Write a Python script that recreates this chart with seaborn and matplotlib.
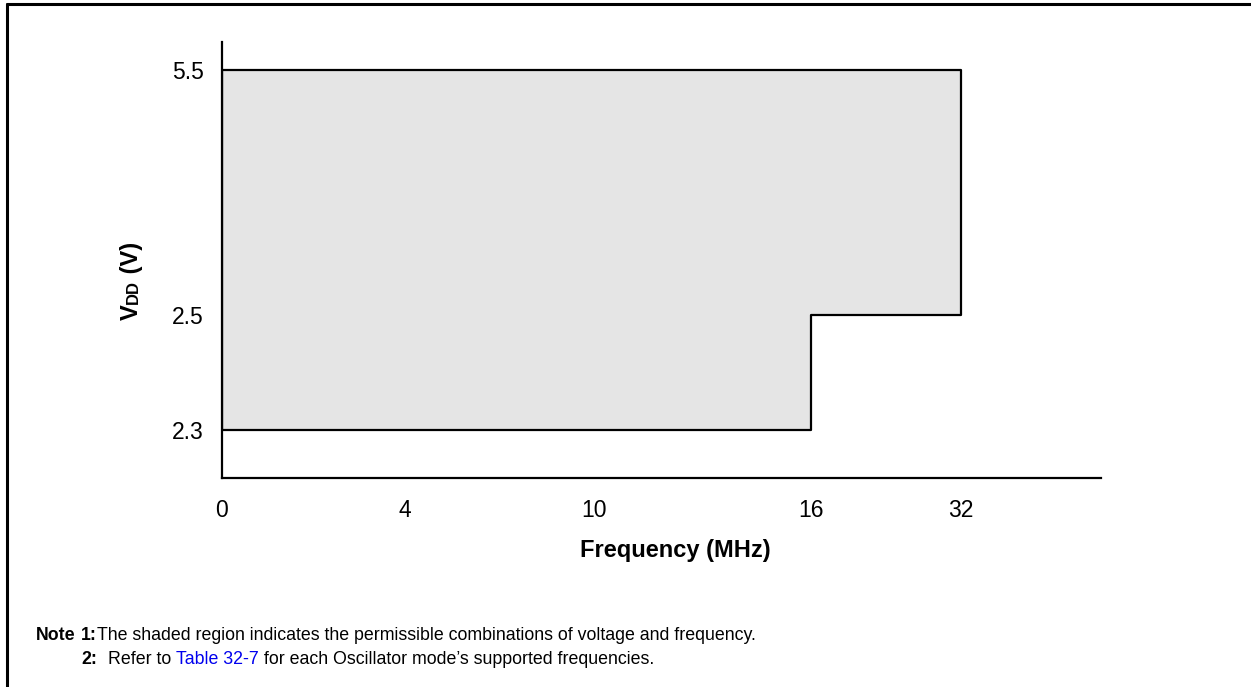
import numpy as np
import matplotlib
matplotlib.use("Agg")
import matplotlib.pyplot as plt
from matplotlib.lines import Line2D
import seaborn as sns
import pandas as pd

# ---- data ----
freq_ticks = [0, 4, 10, 16, 32]                 # MHz (axis is not linear)
freq_tick_labels = ["0", "4", "10", "16", "32"]
volt_ticks = [2.3, 2.5, 5.5]                    # V (axis is not linear)
volt_tick_labels = ["2.3", "2.5", "5.5"]
region_freq = [0, 16, 16, 32, 32, 0, 0]
region_volt = [2.3, 2.3, 2.5, 2.5, 5.5, 5.5, 2.3]
xlabel = "Frequency (MHz)"
ylabel_parts = ["V", "DD", " (V)"]
note1 = "The shaded region indicates the permissible combinations of voltage and frequency."
note2_pre = "Refer to "
note2_link = "Table 32-7"
note2_post = " for each Oscillator mode\u2019s supported frequencies."

# ---- layout: piecewise scale for the non-linear axes ----
x_pos = [0, 183, 372, 589, 739]
x_max = 879
y_pos = [48, 163, 408]
y_max = 436

def fx(v):
    return np.interp(v, freq_ticks, x_pos)

def fy(v):
    return np.interp(v, volt_ticks, y_pos)

sns.set_theme(style="white")
plt.rcParams["font.family"] = ["Liberation Sans", "DejaVu Sans"]
for k in ["text.color", "axes.labelcolor", "xtick.color", "ytick.color"]:
    plt.rcParams[k] = "black"

W, H = 1251, 687
fig = plt.figure(figsize=(W / 100, H / 100), dpi=100)
ax = fig.add_axes([222 / W, 1 - 478 / H, (1101 - 222) / W, (478 - 42) / H])

df = pd.DataFrame({"x": fx(region_freq), "y": fy(region_volt)})
ax.fill(df["x"], df["y"], color="#e5e5e5", zorder=1, linewidth=0)
sns.lineplot(data=df, x="x", y="y", sort=False, estimator=None, color="black",
             linewidth=1.6, ax=ax, zorder=2)

ax.set_xlim(0, x_max)
ax.set_ylim(0, y_max)
ax.set_xticks(fx(freq_ticks))
ax.set_xticklabels(freq_tick_labels)
ax.set_yticks(fy(volt_ticks))
ax.set_yticklabels(volt_tick_labels)
ax.tick_params(axis="both", length=0, labelsize=16.5, colors="black")
ax.tick_params(axis="x", pad=15)
ax.tick_params(axis="y", pad=13)
ax.set_xlabel("")
ax.set_ylabel("")
for s in ["top", "right"]:
    ax.spines[s].set_visible(False)
for s in ["left", "bottom"]:
    ax.spines[s].set_color("black")
    ax.spines[s].set_linewidth(1.6)

fig.text(675 / W, 1 - 550 / H, xlabel, ha="center", va="center",
         fontsize=17, fontweight="bold")

renderer = fig.canvas.get_renderer()

# y label: "V" + small "DD" + " (V)", rotated, sharing one baseline
ybase = 320
sizes = [17, 12, 17]
for part, sz in zip(ylabel_parts, sizes):
    t = fig.text(138 / W, 1 - ybase / H, part, rotation=90, rotation_mode="anchor",
                 ha="left", va="baseline", fontsize=sz, fontweight="bold")
    bb = t.get_window_extent(renderer=renderer)
    ybase = H - bb.y1

# frame border (left + top)
fig.add_artist(Line2D([7 / W, 7 / W], [0, 1 - 4 / H], transform=fig.transFigure,
                      color="black", linewidth=2.2))
fig.add_artist(Line2D([7 / W, 1], [1 - 4 / H, 1 - 4 / H], transform=fig.transFigure,
                      color="black", linewidth=2.2))

# notes
def put(xpx, ypx, s, **kw):
    t = fig.text(xpx / W, 1 - ypx / H, s, ha="left", va="center", fontsize=12.8, **kw)
    bb = t.get_window_extent(renderer=renderer)
    return bb.x1

put(36, 635, "Note", fontweight="bold")
x = put(81, 635, "1:", fontweight="bold")
put(x, 635, note1)
x = put(81, 660, "2:", fontweight="bold")
x = put(x + 11, 660, note2_pre)
x = put(x, 660, note2_link, color="#0000ee")
put(x, 660, note2_post)

fig.savefig("out.png", dpi=100)
